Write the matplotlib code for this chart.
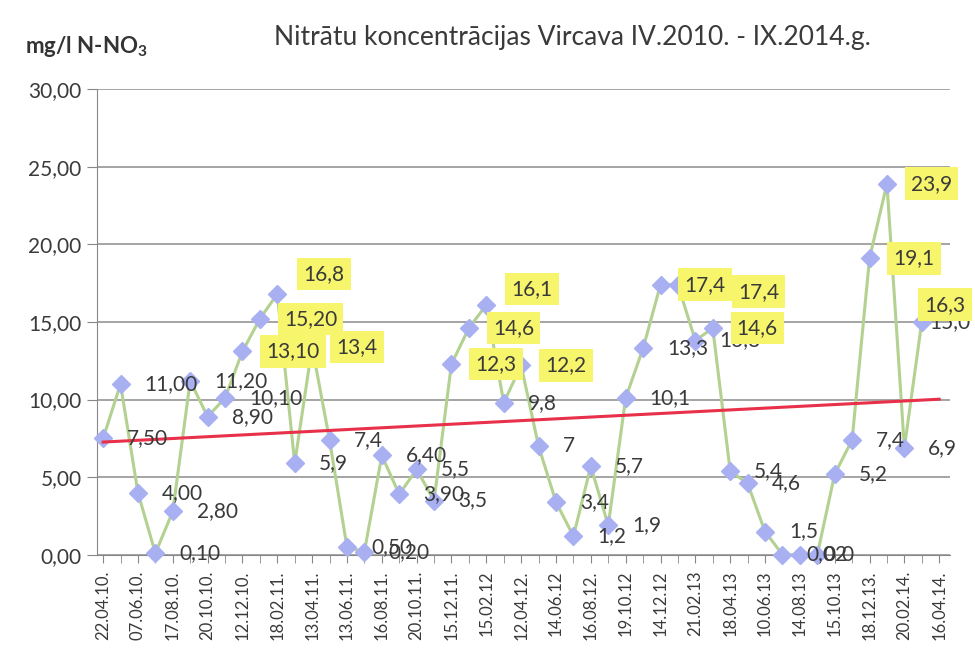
import numpy as np
import matplotlib.pyplot as plt

plt.rcParams['font.family'] = ['Lato', 'DejaVu Sans']
plt.rcParams['mathtext.fontset'] = 'custom'
plt.rcParams['mathtext.rm'] = 'Lato:bold'
plt.rcParams['mathtext.bf'] = 'Lato:bold'

# sampling dates (every second sample is labelled on the axis)
dates = ['22.04.10.', '07.06.10.', '17.08.10.', '20.10.10.', '12.12.10.',
         '18.02.11.', '13.04.11.', '13.06.11.', '16.08.11.', '20.10.11.',
         '15.12.11.', '15.02.12', '12.04.12.', '14.06.12', '16.08.12.',
         '19.10.12', '14.12.12', '21.02.13', '18.04.13', '10.06.13',
         '14.08.13', '15.10.13', '18.12.13.', '20.02.14.', '16.04.14.']

# nitrate N-NO3, mg/l
values = [7.50, 11.00, 4.00, 0.10, 2.80, 11.20, 8.90, 10.10, 13.10, 15.20,
          16.8, 5.9, 13.4, 7.4, 0.50, 0.20, 6.40, 3.90, 5.5, 3.5,
          12.3, 14.6, 16.1, 9.8, 12.2, 7.0, 3.4, 1.2, 5.7, 1.9,
          10.1, 13.3, 17.4, 17.4, 13.8, 14.6, 5.4, 4.6, 1.5, 0.02,
          0.0, 0.0, 5.2, 7.4, 19.1, 23.9, 6.9, 15.0, 16.3]

point_labels = ['7,50', '11,00', '4,00', '0,10', '2,80', '11,20', '8,90', '10,10', '13,10', '15,20',
                '16,8', '5,9', '13,4', '7,4', '0,50', '0,20', '6,40', '3,90', '5,5', '3,5',
                '12,3', '14,6', '16,1', '9,8', '12,2', '7', '3,4', '1,2', '5,7', '1,9',
                '10,1', '13,3', '17,4', '17,4', '13,8', '14,6', '5,4', '4,6', '1,5', '0,02',
                '0', '0', '5,2', '7,4', '19,1', '23,9', '6,9', '15,0', '16,3']

# labels marked with yellow in the original
highlighted = [8, 9, 10, 12, 20, 21, 22, 24, 32, 33, 35, 44, 45, 48]

# labels that were dragged away from the default place (pixels)
moved = {10: (26, -20), 22: (25, -16), 33: (60, 7), 47: (7, 0), 48: (-15, 3)}

fig = plt.figure(figsize=(9.75, 6.52), dpi=100)
ax = fig.add_axes([0.0995, 0.149, 0.8745, 0.7145])

x = np.arange(len(values))
ax.plot(x, values, color='#b3d190', lw=2.2, zorder=3, clip_on=False)
ax.plot(x, values, ls='none', marker='D', ms=9.5, mfc='#a8b0f2', mec='#a8b0f2',
        zorder=4, clip_on=False)

# linear trend
k, b = np.polyfit(x, values, 1)
ax.plot([x[0], x[-1]], [k * x[0] + b, k * x[-1] + b], color='#e8304a', lw=2.2, zorder=5)

for i, (v, s) in enumerate(zip(values, point_labels)):
    dx, dy = moved.get(i, (24, 0))
    kw = {}
    z = 6
    if i in highlighted:
        kw['bbox'] = dict(boxstyle='square,pad=0.3', fc='#f6f56c', ec='none')
        z = 7
    ax.annotate(s, (i, v), xytext=(dx / 1.389, -dy / 1.389), textcoords='offset points',
                ha='left', va='center', fontsize=15, color='#3a3a3a', zorder=z, **kw)

ax.set_ylim(0, 30)
ax.set_xlim(-0.35, 48.6)
ax.set_yticks(np.arange(0, 31, 5))
ax.set_yticklabels([('%.2f' % t).replace('.', ',') for t in np.arange(0, 31, 5)])
ax.set_xticks(x[::2])
ax.set_xticklabels(dates, rotation=90, fontsize=12, color='#3a3a3a')
ax.set_xticks(x, minor=True)
ax.tick_params(axis='y', labelsize=15, labelcolor='#3a3a3a', length=7, color='#888888', pad=4)
ax.tick_params(axis='x', which='both', length=6, color='#888888', pad=5)

ax.grid(axis='y', color='#8c8c8c', lw=1.1)
ax.set_axisbelow(True)
for sp in ['top', 'right']:
    ax.spines[sp].set_visible(False)
ax.spines['left'].set_color('#888888')
ax.spines['bottom'].set_color('#888888')

fig.text(0.587, 0.942, 'Nitrātu koncentrācijas Vircava IV.2010. - IX.2014.g.',
         ha='center', va='center', fontsize=19, color='#3a3a3a')
fig.text(0.026, 0.928, 'mg/l N-NO$_3$', ha='left', va='center', fontsize=16,
         fontweight='bold', color='#333333')

fig.savefig('out.png', dpi=100)
